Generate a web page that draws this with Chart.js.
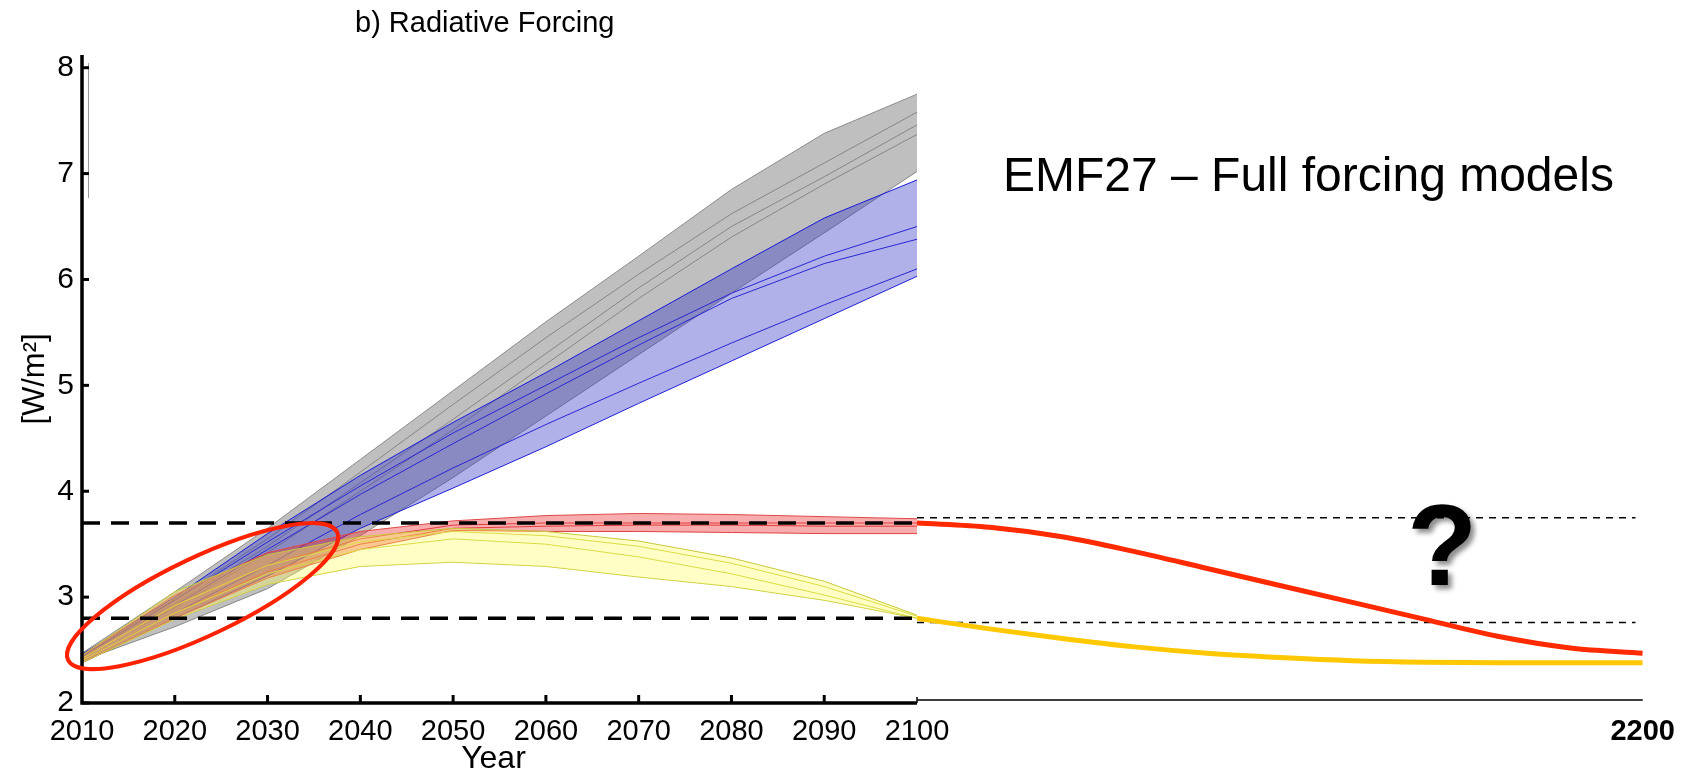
<!DOCTYPE html>
<html>
<head>
<meta charset="utf-8">
<script src="https://cdn.jsdelivr.net/npm/chart.js@4.4.1/dist/chart.umd.min.js"></script>
<style>
  html, body { margin: 0; padding: 0; background: #fff; }
  #chart { display: block; }
</style>
</head>
<body>
<canvas id="chart" width="1687" height="772"></canvas>
<script>
// decade points of the model runs
const decadeYears = [2010, 2020, 2030, 2040, 2050, 2060, 2070, 2080, 2090, 2100];

// grey: full forcing, no policy
const greyUpper  = [2.47, 3.05, 3.65, 4.30, 4.95, 5.60, 6.22, 6.85, 7.38, 7.75];
const greyLower  = [2.40, 2.72, 3.08, 3.58, 4.13, 4.71, 5.29, 5.87, 6.44, 7.02];
const greyModelA = [2.45, 2.98, 3.55, 4.18, 4.82, 5.45, 6.05, 6.62, 7.10, 7.58];
const greyModelB = [2.44, 2.94, 3.48, 4.08, 4.68, 5.30, 5.92, 6.50, 6.97, 7.46];
const greyModelC = [2.43, 2.90, 3.42, 4.00, 4.58, 5.20, 5.82, 6.40, 6.90, 7.37];

// blue
const blueUpper  = [2.46, 3.00, 3.60, 4.15, 4.65, 5.12, 5.61, 6.10, 6.58, 6.94];
const blueLower  = [2.38, 2.80, 3.20, 3.65, 4.03, 4.42, 4.83, 5.23, 5.63, 6.03];
const blueModelA = [2.44, 2.97, 3.52, 4.05, 4.55, 5.00, 5.45, 5.87, 6.22, 6.50];
const blueModelB = [2.42, 2.92, 3.45, 3.97, 4.45, 4.92, 5.38, 5.82, 6.15, 6.38];
const blueModelC = [2.40, 2.85, 3.30, 3.78, 4.22, 4.63, 5.02, 5.40, 5.76, 6.10];

// red: 3.7 W/m2 target
const redUpper  = [2.45, 3.02, 3.42, 3.62, 3.72, 3.77, 3.79, 3.78, 3.76, 3.74];
const redLower  = [2.38, 2.80, 3.18, 3.45, 3.63, 3.62, 3.62, 3.61, 3.60, 3.60];
const redModelA = [2.42, 2.92, 3.30, 3.55, 3.68, 3.70, 3.70, 3.70, 3.70, 3.70];
const redModelB = [2.40, 2.85, 3.24, 3.50, 3.65, 3.67, 3.68, 3.68, 3.67, 3.67];

// yellow: 2.8 W/m2 target (overshoot)
const yellowUpper  = [2.45, 3.05, 3.40, 3.57, 3.65, 3.62, 3.53, 3.37, 3.15, 2.83];
const yellowLower  = [2.38, 2.79, 3.12, 3.29, 3.33, 3.29, 3.19, 3.10, 2.97, 2.80];
const yellowModelA = [2.42, 2.92, 3.30, 3.52, 3.62, 3.58, 3.48, 3.32, 3.10, 2.82];
const yellowModelB = [2.40, 2.85, 3.22, 3.45, 3.55, 3.50, 3.38, 3.22, 3.02, 2.80];

// stylised continuation to 2200
const extYears        = [2100, 2110, 2120, 2130, 2140, 2150, 2160, 2170, 2180, 2190, 2200];
const redExtension    = [3.70, 3.66, 3.57, 3.43, 3.27, 3.11, 2.95, 2.79, 2.63, 2.52, 2.47];
const yellowExtension = [2.80, 2.70, 2.61, 2.53, 2.47, 2.43, 2.40, 2.385, 2.38, 2.38, 2.38];

// target levels
const targetLevels = [3.70, 2.80];
const extLevels = [3.75, 2.76];

const xTickYears = [2010, 2020, 2030, 2040, 2050, 2060, 2070, 2080, 2090, 2100, 2200];
const yTickValues = [2, 3, 4, 5, 6, 7, 8];

const SPLIT_YEAR = 2100;
const SPLIT_FRACTION = 0.535;  // share of the axis width used by 2010-2100

const FONT = '"Liberation Sans", Arial, Helvetica, sans-serif';

// x axis that is stretched before 2100 and compressed after it
class SplitYearScale extends Chart.LinearScale {
  getPixelForValue(value) {
    const lo = this.min, hi = this.max;
    const d = value <= SPLIT_YEAR
      ? SPLIT_FRACTION * (value - lo) / (SPLIT_YEAR - lo)
      : SPLIT_FRACTION + (1 - SPLIT_FRACTION) * (value - SPLIT_YEAR) / (hi - SPLIT_YEAR);
    return this.getPixelForDecimal(d);
  }
  getValueForPixel(pixel) {
    const d = this.getDecimalForPixel(pixel);
    if (d <= SPLIT_FRACTION) return this.min + d / SPLIT_FRACTION * (SPLIT_YEAR - this.min);
    return SPLIT_YEAR + (d - SPLIT_FRACTION) / (1 - SPLIT_FRACTION) * (this.max - SPLIT_YEAR);
  }
}
SplitYearScale.id = 'splitYear';
SplitYearScale.defaults = {};
Chart.register(SplitYearScale);

const pts = (xs, ys) => xs.map((x, i) => ({ x: x, y: ys[i] }));

function band(upper, lower, fillColor, edgeColor, order) {
  return [
    { data: pts(decadeYears, upper), fill: '+1', backgroundColor: fillColor,
      borderColor: edgeColor, borderWidth: 1, order: order },
    { data: pts(decadeYears, lower), fill: false,
      borderColor: edgeColor, borderWidth: 1, order: order }
  ];
}
function model(values, color, order) {
  return { data: pts(decadeYears, values), fill: false, borderColor: color, borderWidth: 1, order: order };
}
function level(x0, x1, v, width, dash) {
  return { data: [{ x: x0, y: v }, { x: x1, y: v }], fill: false, borderColor: '#000',
           borderWidth: width, borderDash: dash, order: 1 };
}

const greyLine = '#8c8c8c', blueLine = '#1818d8', redLine = '#e04848', yellowLine = '#c8c83c';

const datasets = [
  ...band(greyUpper, greyLower, 'rgba(128,128,128,0.5)', greyLine, 9),
  model(greyModelA, greyLine, 9), model(greyModelB, greyLine, 9), model(greyModelC, greyLine, 9),
  ...band(blueUpper, blueLower, 'rgba(60,60,200,0.4)', blueLine, 8),
  model(blueModelA, blueLine, 8), model(blueModelB, blueLine, 8), model(blueModelC, blueLine, 8),
  ...band(redUpper, redLower, 'rgba(235,40,40,0.38)', redLine, 7),
  model(redModelA, redLine, 7), model(redModelB, redLine, 7),
  ...band(yellowUpper, yellowLower, 'rgba(255,255,90,0.35)', yellowLine, 6),
  model(yellowModelA, yellowLine, 6), model(yellowModelB, yellowLine, 6),
  level(2010, 2100, targetLevels[0], 3.5, [18, 11]),
  level(2010, 2100, targetLevels[1], 3.5, [18, 11]),
  level(2100, 2199, extLevels[0], 1.5, [7, 6]),
  level(2100, 2199, extLevels[1], 1.5, [7, 6]),
  { data: pts(extYears, redExtension), fill: false, borderColor: '#ff2a00', borderWidth: 5,
    cubicInterpolationMode: 'monotone', order: 0 },
  { data: pts(extYears, yellowExtension), fill: false, borderColor: '#ffc800', borderWidth: 5,
    cubicInterpolationMode: 'monotone', order: 0 },
  // thin grey stroke next to the top of the y axis
  { data: [{ x: 2010.7, y: 8.04 }, { x: 2010.7, y: 6.77 }], fill: false, borderColor: '#9a9a9a',
    borderWidth: 1, order: 0 }
];

// highlighted early period (centre in data units, size in pixels)
const ellipseCentre = { x: 2023.0, y: 3.01 };
const ellipseSize = { a: 149, b: 39, angle: -25.4 };

const decorations = {
  id: 'decorations',
  afterDatasetsDraw(chart) {
    const ctx = chart.ctx;
    const xs = chart.scales.x, ys = chart.scales.y;
    const x0 = xs.getPixelForValue(2010), xb = xs.getPixelForValue(SPLIT_YEAR), xe = xs.getPixelForValue(2200);
    const y0 = ys.getPixelForValue(2), yTop = ys.getPixelForValue(ys.max);
    ctx.save();
    ctx.strokeStyle = '#000';
    ctx.lineCap = 'butt';

    // thick axes
    ctx.lineWidth = 3.5;
    ctx.beginPath();
    ctx.moveTo(x0, yTop); ctx.lineTo(x0, y0); ctx.lineTo(xb, y0);
    ctx.stroke();
    ctx.lineWidth = 3;
    xTickYears.filter(v => v > 2010 && v < SPLIT_YEAR).forEach(v => {
      const px = xs.getPixelForValue(v);
      ctx.beginPath(); ctx.moveTo(px, y0); ctx.lineTo(px, y0 - 8); ctx.stroke();
    });
    yTickValues.forEach(v => {
      const py = ys.getPixelForValue(v);
      ctx.beginPath(); ctx.moveTo(x0, py); ctx.lineTo(x0 + 7, py); ctx.stroke();
    });
    // thin continuation after 2100
    ctx.lineWidth = 1.5;
    ctx.beginPath();
    ctx.moveTo(xb, y0); ctx.lineTo(xb, y0 - 6); ctx.moveTo(xb, y0 - 3); ctx.lineTo(xe, y0 - 3);
    ctx.stroke();

    // red ellipse
    const cx = xs.getPixelForValue(ellipseCentre.x), cy = ys.getPixelForValue(ellipseCentre.y);
    ctx.strokeStyle = '#ff2200';
    ctx.lineWidth = 4;
    ctx.beginPath();
    ctx.ellipse(cx, cy, ellipseSize.a, ellipseSize.b, ellipseSize.angle * Math.PI / 180, 0, 2 * Math.PI);
    ctx.stroke();

    // texts
    ctx.fillStyle = '#000';
    ctx.textBaseline = 'alphabetic';
    ctx.textAlign = 'left';
    ctx.font = '29px ' + FONT;
    ctx.fillText('b) Radiative Forcing', 355, 32);
    ctx.font = '48px ' + FONT;
    ctx.fillText('EMF27 \u2013 Full forcing models', 1003, 191);
    ctx.textAlign = 'center';
    ctx.font = '32px ' + FONT;
    ctx.fillText('Year', (x0 + xb) / 2 - 6, 768);

    ctx.font = 'bold 115px ' + FONT;
    ctx.shadowColor = 'rgba(0,0,0,0.45)';
    ctx.shadowBlur = 5;
    ctx.shadowOffsetX = 4;
    ctx.shadowOffsetY = 4;
    ctx.fillText('?', 1442, 585);
    ctx.restore();
  }
};

new Chart(document.getElementById('chart'), {
  type: 'line',
  data: { datasets: datasets },
  options: {
    responsive: false,
    animation: false,
    devicePixelRatio: 1,
    layout: { padding: { top: 55, right: 37, left: 0, bottom: 0 } },
    elements: { point: { radius: 0 }, line: { tension: 0 } },
    plugins: { legend: { display: false }, tooltip: { enabled: false } },
    scales: {
      x: {
        type: 'splitYear',
        min: 2010,
        max: 2200,
        afterBuildTicks: s => { s.ticks = xTickYears.map(v => ({ value: v })); },
        afterFit: s => { s.height = 69; },
        grid: { display: false, drawTicks: false },
        border: { display: false },
        ticks: {
          autoSkip: false,
          maxRotation: 0,
          padding: 12,
          color: '#000',
          callback: v => String(v),
          font: c => ({ family: FONT, size: 29, weight: c.tick && c.tick.value === 2200 ? 'bold' : 'normal' })
        }
      },
      y: {
        min: 2,
        max: 8.12,
        afterBuildTicks: s => { s.ticks = yTickValues.map(v => ({ value: v })); },
        afterFit: s => { s.width = 82; },
        grid: { display: false, drawTicks: false },
        border: { display: false },
        ticks: { padding: 8, color: '#000', font: { family: FONT, size: 30 }, callback: v => String(v) },
        title: { display: true, text: '[W/m\u00b2]', color: '#000', padding: { top: 17, bottom: 0 },
                 font: { family: FONT, size: 31 } }
      }
    }
  },
  plugins: [decorations]
});
</script>
</body>
</html>
